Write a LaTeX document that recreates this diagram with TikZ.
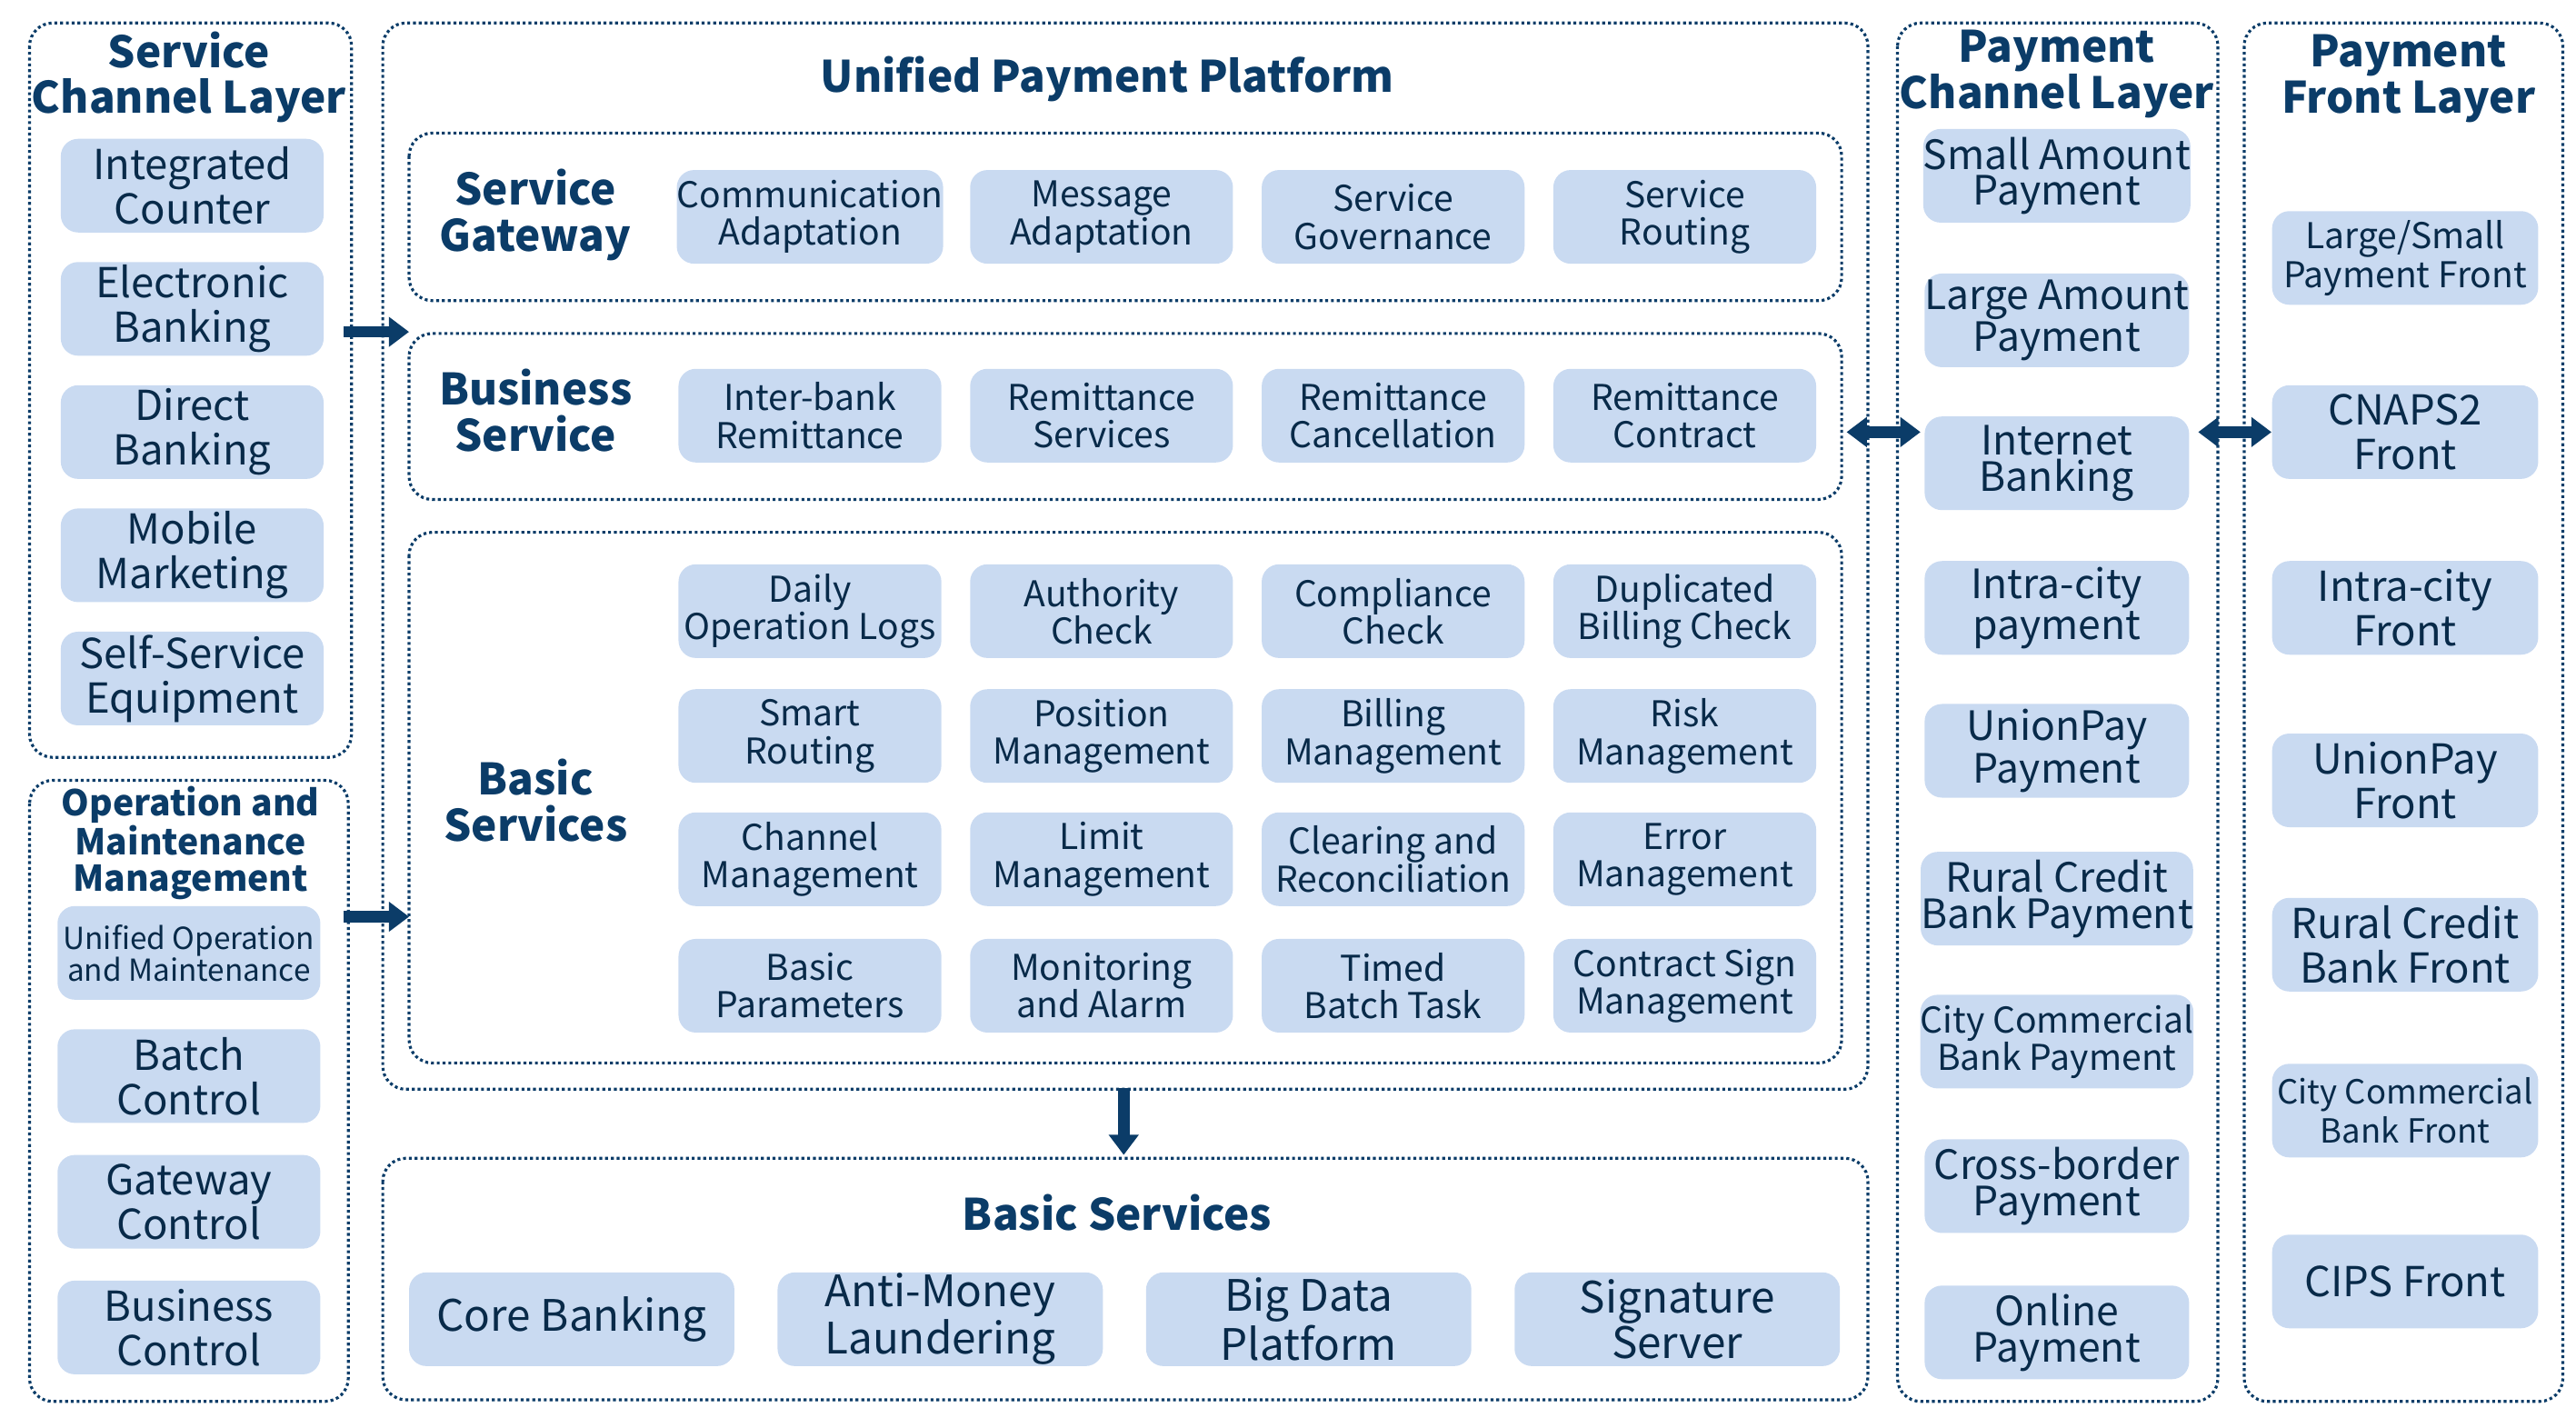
\documentclass[tikz,border=0pt]{standalone}
\usepackage{fontspec}
\setmainfont{Noto Sans CJK SC}
\usetikzlibrary{arrows.meta}
\definecolor{navy}{HTML}{0B3C68}
\definecolor{boxblue}{HTML}{C9DAF1}
\tikzset{
  frame/.style={draw=navy, densely dotted, line width=1pt, rounded corners=8pt},
  item/.style={fill=boxblue, rounded corners=6pt, text=navy!70!black, align=center, inner sep=0pt,
    minimum width=160*0.02cm, minimum height=57*0.02cm, font=\fontsize{12.3}{13}\selectfont},
  big/.style={item, font=\fontsize{14.3}{15.5}\selectfont},
  title/.style={text=navy, font=\bfseries\fontsize{15}{16}\selectfont, align=center},
  flow/.style={-{Triangle[length=7pt,width=10pt]}, line width=4pt, draw=navy},
  dflow/.style={{Triangle[length=7pt,width=10pt]}-{Triangle[length=7pt,width=10pt]}, line width=4pt, draw=navy}
}
\begin{document}
\begin{tikzpicture}[x=0.02cm,y=-0.02cm]
  \useasboundingbox (0,0) rectangle (1568,869);
  % frames
  \draw[frame] (18,14) rectangle (214,461);
  \draw[frame] (18,475) rectangle (212,853);
  \draw[frame] (233,14) rectangle (1137,663);
  \draw[frame] (249,81) rectangle (1121,183);
  \draw[frame] (249,203) rectangle (1121,304);
  \draw[frame] (249,324) rectangle (1121,647);
  \draw[frame] (233,705) rectangle (1137,852);
  \draw[frame] (1155,14) rectangle (1350,853);
  \draw[frame] (1366,14) rectangle (1560,853);

  % service channel layer
  \node[title] (sctitle) at (115,47) {Service\\Channel Layer};
  \foreach \t [count=\i] in {Integrated\\Counter, Electronic\\Banking, Direct\\Banking, Mobile\\Marketing, Self-Service\\Equipment}
    \node[big] (sc\i) at (117,38+75*\i) {\t};

  % operation and maintenance
  \node[title, font=\bfseries\fontsize{12.3}{12.5}\selectfont] (omtitle) at (116,513) {Operation and\\Maintenance\\Management};
  \node[item, font=\fontsize{10.5}{11}\selectfont] (om1) at (115,580) {Unified Operation\\and Maintenance};
  \foreach \t [count=\i from 2] in {Batch\\Control, Gateway\\Control, Business\\Control}
    \node[big] (om\i) at (115,655+76.5*\i-153) {\t};

  % unified payment platform
  \node[title] (upptitle) at (674,48) {Unified Payment Platform};
  \node[title] (sglabel) at (326,131) {Service\\Gateway};
  \node[title] (bslabel) at (326,250) {Business\\Service};
  \node[title] (bblabel) at (326,487) {Basic\\Services};
  \foreach \t [count=\i] in {Communication\\Adaptation, Message\\Adaptation, Service\\Governance, Service\\Routing}
    \node[item] (sg\i) at ({493+177.5*(\i-1)},132) {\t};
  \foreach \t [count=\i] in {Inter-bank\\Remittance, Remittance\\Services, Remittance\\Cancellation, Remittance\\Contract}
    \node[item] (bs\i) at ({493+177.5*(\i-1)},253) {\t};
  \foreach \t [count=\i] in {Daily\\Operation Logs, Authority\\Check, Compliance\\Check, Duplicated\\Billing Check}
    \node[item] (ba\i) at ({493+177.5*(\i-1)},372) {\t};
  \foreach \t [count=\i] in {Smart\\Routing, Position\\Management, Billing\\Management, Risk\\Management}
    \node[item] (bb\i) at ({493+177.5*(\i-1)},448) {\t};
  \foreach \t [count=\i] in {Channel\\Management, Limit\\Management, Clearing and\\Reconciliation, Error\\Management}
    \node[item] (bc\i) at ({493+177.5*(\i-1)},523) {\t};
  \foreach \t [count=\i] in {Basic\\Parameters, Monitoring\\and Alarm, Timed\\Batch Task, Contract Sign\\Management}
    \node[item] (bd\i) at ({493+177.5*(\i-1)},600) {\t};

  % basic services (bottom)
  \node[title] (bottitle) at (680,738) {Basic Services};
  \foreach \t [count=\i] in {Core Banking, Anti-Money\\Laundering, Big Data\\Platform, Signature\\Server}
    \node[big, minimum width=198*0.02cm, font=\fontsize{15}{14}\selectfont] (bt\i) at ({348+224.3*(\i-1)},803) {\t};

  % payment channel layer
  \tikzset{pcbox/.style={big, minimum width=161*0.02cm, font=\fontsize{14}{12.5}\selectfont}}
  \node[title] (pctitle) at (1252,45) {Payment\\Channel Layer};
  \foreach \t/\y [count=\i] in {{Small Amount\\Payment}/107, {Large Amount\\Payment}/195, {Internet\\Banking}/282, {Intra-city\\payment}/370, {UnionPay\\Payment}/457, {Rural Credit\\Bank Payment}/547}
    \node[pcbox] (pc\i) at (1252,\y) {\t};
  \node[pcbox, font=\fontsize{12.3}{13}\selectfont] (pc7) at (1252,634) {City Commercial\\Bank Payment};
  \node[pcbox] (pc8) at (1252,722) {Cross-border\\Payment};
  \node[pcbox] (pc9) at (1252,811) {Online\\Payment};

  % payment front layer
  \tikzset{pfbox/.style={big, minimum width=162*0.02cm}}
  \node[title] (pftitle) at (1466,48) {Payment\\Front Layer};
  \node[pfbox, font=\fontsize{12.3}{13.5}\selectfont] (pf1) at (1464,157) {Large/Small\\Payment Front};
  \node[pfbox] (pf2) at (1464,263) {CNAPS2\\Front};
  \node[pfbox] (pf3) at (1464,370) {Intra-city\\Front};
  \node[pfbox] (pf4) at (1464,475) {UnionPay\\Front};
  \node[pfbox] (pf5) at (1464,575) {Rural Credit\\Bank Front};
  \node[pfbox, font=\fontsize{11.5}{13.5}\selectfont] (pf6) at (1464,676) {City Commercial\\Bank Front};
  \node[pfbox] (pf7) at (1464,780) {CIPS Front};

  % connectors
  \coordinate (scout) at (209,202);
  \coordinate (omout) at (209,558);
  \coordinate (uppin) at (249,202);
  \coordinate (uppin2) at (249,558);
  \coordinate (uppout) at (684,662);
  \coordinate (botin) at (684,703);
  \coordinate (uppright) at (1124,263);
  \coordinate (pcleft) at (1169,263);
  \coordinate (pcright) at (1338,263);
  \draw[flow] (scout) -- (uppin);
  \draw[flow] (omout) -- (uppin2);
  \draw[flow] (uppout) -- (botin);
  \draw[dflow] (uppright) -- (pcleft);
  \draw[dflow] (pcright) -- (pf2.west);
\end{tikzpicture}
\end{document}
